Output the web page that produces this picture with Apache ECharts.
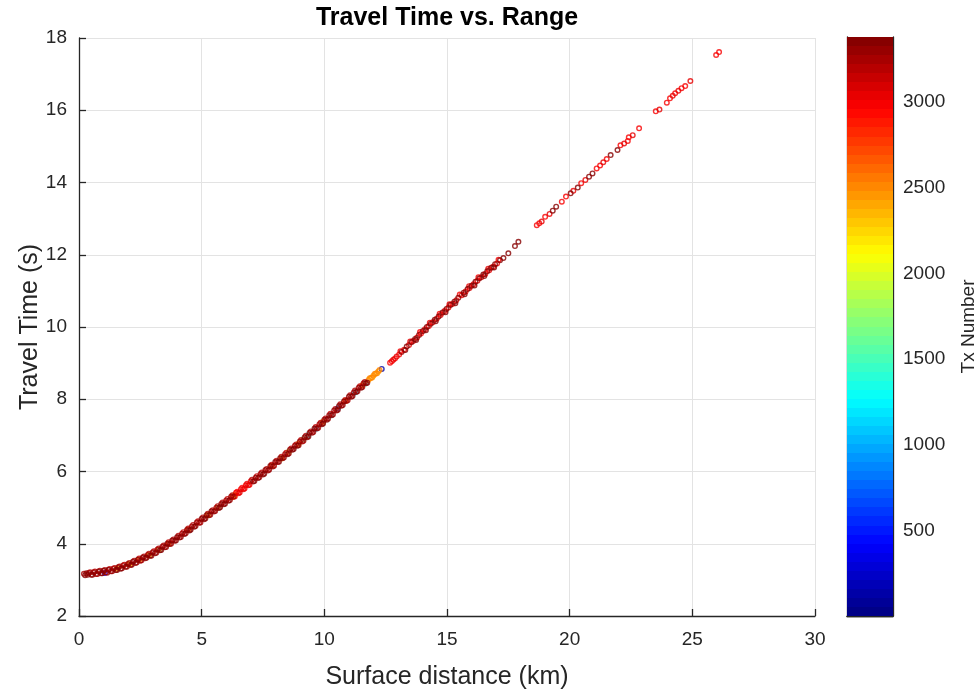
<!DOCTYPE html>
<html>
<head>
<meta charset="utf-8">
<script src="https://cdn.jsdelivr.net/npm/echarts@6/dist/echarts.min.js"></script>
<style>
  html, body { margin: 0; padding: 0; background: #fff; }
  #chart { width: 977px; height: 689px; }
</style>
</head>
<body>
<div id="chart"></div>
<script>
// picks: [surface distance km, travel time s, tx number]
// dense part of the curve, 0.2 - 12.3 km
const nearPicks = [
  [0.20, 3.17, 3260], [0.25, 3.13, 3330], [0.30, 3.18, 3290], [0.35, 3.14, 3370], [0.40, 3.19, 3240],
  [0.50, 3.14, 3350], [0.60, 3.21, 3310], [0.70, 3.16, 3260], [0.80, 3.23, 3330], [0.90, 3.18, 3290],
  [1.00, 3.25, 3370], [1.10, 3.21, 3240], [1.20, 3.28, 3350], [1.30, 3.24, 3310], [1.40, 3.31, 3260],
  [1.50, 3.27, 3330], [1.60, 3.35, 3290], [1.70, 3.31, 3370], [1.80, 3.40, 3240], [1.90, 3.36, 3350],
  [2.00, 3.44, 3310], [2.10, 3.41, 3260], [2.20, 3.50, 3330], [2.30, 3.47, 3290], [2.40, 3.56, 3370],
  [2.50, 3.53, 3240], [2.60, 3.62, 3350], [2.70, 3.60, 3310], [2.80, 3.69, 3260], [2.90, 3.67, 3330],
  [3.00, 3.76, 3290], [3.10, 3.74, 3370], [3.20, 3.84, 3240], [3.30, 3.82, 3350], [3.40, 3.92, 3310],
  [3.50, 3.90, 3260], [3.60, 4.00, 3330], [3.70, 3.99, 3290], [3.80, 4.09, 3370], [3.90, 4.08, 3240],
  [4.00, 4.18, 3350], [4.10, 4.17, 3310], [4.20, 4.28, 3260], [4.30, 4.27, 3330], [4.40, 4.38, 3290],
  [4.50, 4.37, 3370], [4.60, 4.48, 3240], [4.70, 4.47, 3350], [4.80, 4.59, 3310], [4.90, 4.58, 3260],
  [5.00, 4.69, 3330], [5.10, 4.68, 3290], [5.20, 4.79, 3370], [5.30, 4.79, 3240], [5.40, 4.90, 3350],
  [5.50, 4.89, 3310], [5.60, 5.00, 3260], [5.70, 4.99, 3330], [5.80, 5.10, 3290], [5.90, 5.09, 3370],
  [6.00, 5.20, 3240], [6.10, 5.19, 3350], [6.20, 5.30, 3310], [6.30, 5.30, 3260],
  [6.40, 5.41, 2990], [6.50, 5.40, 3020], [6.60, 5.51, 2980], [6.70, 5.51, 3040], [6.80, 5.62, 3000],
  [6.90, 5.62, 3030], [7.00, 5.73, 2990],
  [7.10, 5.72, 3330], [7.20, 5.83, 3290], [7.30, 5.82, 3370], [7.40, 5.93, 3240], [7.50, 5.92, 3350],
  [7.60, 6.04, 3310], [7.70, 6.03, 3260], [7.80, 6.15, 3330], [7.90, 6.14, 3290], [8.00, 6.26, 3370],
  [8.10, 6.26, 3240], [8.20, 6.37, 3350], [8.30, 6.37, 3310], [8.40, 6.48, 3260], [8.50, 6.48, 3330],
  [8.60, 6.60, 3290], [8.70, 6.60, 3370], [8.80, 6.71, 3240], [8.90, 6.71, 3350], [9.00, 6.83, 3310],
  [9.10, 6.83, 3260], [9.20, 6.95, 3330], [9.30, 6.95, 3290], [9.40, 7.07, 3370], [9.50, 7.07, 3240],
  [9.60, 7.19, 3350], [9.70, 7.19, 3310], [9.80, 7.31, 3260], [9.90, 7.31, 3330], [10.00, 7.43, 3290],
  [10.10, 7.43, 3370], [10.20, 7.56, 3240], [10.30, 7.56, 3350], [10.40, 7.69, 3310], [10.50, 7.69, 3260],
  [10.60, 7.81, 3330], [10.70, 7.82, 3290], [10.80, 7.94, 3370], [10.90, 7.95, 3240], [11.00, 8.07, 3350],
  [11.10, 8.07, 3310], [11.20, 8.19, 3260], [11.30, 8.20, 3330], [11.40, 8.32, 3290], [11.50, 8.32, 3370],
  [11.60, 8.44, 3240], [11.70, 8.44, 3350],
  [11.80, 8.53, 2470], [11.90, 8.59, 2500], [12.00, 8.65, 2450], [12.10, 8.71, 2520], [12.20, 8.77, 2480],
  [12.34, 8.84, 120]
];

// in-between picks on the edges of the dense band
const nearPicksB = [
  [0.45, 3.21, 3180], [0.55, 3.14, 3300], [0.65, 3.23, 3120], [0.75, 3.16, 3260], [0.85, 3.25, 3200],
  [0.95, 3.18, 3340], [1.05, 3.27, 3180], [1.15, 3.20, 3300], [1.25, 3.30, 3120], [1.35, 3.24, 3260],
  [1.45, 3.33, 3200], [1.55, 3.27, 3340], [1.65, 3.37, 3180], [1.75, 3.32, 3300], [1.85, 3.42, 3120],
  [1.95, 3.36, 3260], [2.05, 3.47, 3200], [2.15, 3.42, 3340], [2.25, 3.53, 3180], [2.35, 3.48, 3300],
  [2.45, 3.59, 3120], [2.55, 3.54, 3260], [2.65, 3.65, 3200], [2.75, 3.61, 3340], [2.85, 3.72, 3180],
  [2.95, 3.67, 3300], [3.05, 3.79, 3120], [3.15, 3.75, 3260], [3.25, 3.87, 3200], [3.35, 3.83, 3340],
  [3.45, 3.95, 3180], [3.55, 3.91, 3300], [3.65, 4.04, 3120], [3.75, 4.00, 3260], [3.85, 4.12, 3200],
  [3.95, 4.09, 3340], [4.05, 4.22, 3180], [4.15, 4.19, 3300], [4.25, 4.32, 3120], [4.35, 4.29, 3260],
  [4.45, 4.42, 3200], [4.55, 4.39, 3340], [4.65, 4.52, 3180], [4.75, 4.49, 3300], [4.85, 4.62, 3120],
  [4.95, 4.59, 3260], [5.05, 4.73, 3200], [5.15, 4.70, 3340], [5.25, 4.83, 3180], [5.35, 4.80, 3300],
  [5.45, 4.93, 3120], [5.55, 4.91, 3260], [5.65, 5.04, 3200], [5.75, 5.01, 3340], [5.85, 5.14, 3180],
  [5.95, 5.11, 3300], [6.05, 5.24, 3120], [6.15, 5.21, 3260], [6.25, 5.34, 3200],
  [6.35, 5.31, 3010], [6.45, 5.44, 2990], [6.55, 5.42, 3030], [6.65, 5.55, 3000], [6.75, 5.53, 2980],
  [6.85, 5.66, 3020], [6.95, 5.63, 3000],
  [7.05, 5.77, 3180], [7.15, 5.74, 3300], [7.25, 5.87, 3120], [7.35, 5.84, 3260], [7.45, 5.97, 3200],
  [7.55, 5.94, 3340], [7.65, 6.07, 3180], [7.75, 6.05, 3300], [7.85, 6.19, 3120], [7.95, 6.16, 3260],
  [8.05, 6.30, 3200], [8.15, 6.27, 3340], [8.25, 6.41, 3180], [8.35, 6.39, 3300], [8.45, 6.52, 3120],
  [8.55, 6.50, 3260], [8.65, 6.64, 3200], [8.75, 6.62, 3340], [8.85, 6.75, 3180], [8.95, 6.73, 3300],
  [9.05, 6.87, 3120], [9.15, 6.85, 3260], [9.25, 6.99, 3200], [9.35, 6.97, 3340], [9.45, 7.11, 3180],
  [9.55, 7.09, 3300], [9.65, 7.23, 3120], [9.75, 7.21, 3260], [9.85, 7.35, 3200], [9.95, 7.33, 3340],
  [10.05, 7.47, 3180], [10.15, 7.46, 3300], [10.25, 7.60, 3120], [10.35, 7.58, 3260], [10.45, 7.73, 3200],
  [10.55, 7.71, 3340], [10.65, 7.86, 3180], [10.75, 7.84, 3300], [10.85, 7.98, 3120], [10.95, 7.97, 3260],
  [11.05, 8.11, 3200], [11.15, 8.09, 3340], [11.25, 8.24, 3180], [11.35, 8.22, 3300], [11.45, 8.36, 3120],
  [11.55, 8.34, 3260], [11.65, 8.48, 3200], [11.75, 8.46, 3340],
  [11.85, 8.58, 2490], [11.95, 8.60, 2460], [12.05, 8.70, 2510], [12.15, 8.72, 2470], [12.25, 8.81, 2500]
];

// odd colours showing through the dense band
const accentPicks = [
  [1.05, 3.19, 400], [1.55, 3.31, 2350], [2.05, 3.43, 2200], [2.45, 3.55, 2450], [2.85, 3.68, 2300],
  [3.25, 3.83, 1950], [3.65, 4.00, 2500], [4.45, 4.39, 2600], [5.25, 4.79, 2150], [5.65, 5.00, 1900],
  [6.25, 5.29, 2550], [6.35, 5.35, 2200], [7.85, 6.15, 2600], [8.25, 6.36, 2300], [8.55, 6.55, 1800],
  [8.95, 6.77, 2400], [9.15, 6.89, 1550], [9.35, 7.01, 1300], [9.65, 7.18, 1100], [9.95, 7.38, 2450],
  [10.25, 7.56, 1250], [10.55, 7.75, 850], [10.85, 7.95, 2500], [11.25, 8.19, 1200], [11.55, 8.39, 2500],
  [11.65, 8.43, 1400]
];

// 12.7 - 17.9 km
const midPicks = [
  [12.68, 9.01, 3010], [12.75, 9.05, 2990], [12.81, 9.09, 3020], [12.88, 9.13, 3000], [12.95, 9.18, 3030],
  [13.05, 9.24, 3010], [13.15, 9.31, 3320], [13.25, 9.37, 3000], [13.36, 9.46, 3340], [13.45, 9.50, 3050],
  [13.55, 9.58, 3350], [13.62, 9.61, 3020], [13.70, 9.67, 3330], [13.78, 9.71, 3060], [13.86, 9.78, 3360],
  [13.94, 9.82, 3010], [14.02, 9.89, 3340], [14.10, 9.94, 3040], [14.18, 10.00, 3350], [14.26, 10.03, 3000],
  [14.34, 10.09, 3370], [14.42, 10.13, 3030], [14.50, 10.20, 3340], [14.58, 10.23, 3020], [14.66, 10.29, 3350],
  [14.74, 10.33, 3050], [14.82, 10.40, 3330], [14.90, 10.44, 3010], [14.98, 10.50, 3360], [15.06, 10.54, 3020],
  [15.14, 10.61, 3340], [15.22, 10.64, 3000], [15.30, 10.70, 3350], [15.38, 10.74, 3040], [15.46, 10.81, 3330],
  [15.60, 10.88, 3020], [15.68, 10.95, 3360], [15.76, 10.98, 3010], [15.84, 11.05, 3340], [15.92, 11.08, 3030],
  [16.00, 11.14, 3350], [16.08, 11.18, 3000], [16.16, 11.25, 3370], [16.24, 11.28, 3050], [16.32, 11.35, 3340],
  [16.40, 11.38, 3020], [16.48, 11.45, 3350], [16.56, 11.47, 3010], [16.64, 11.54, 3330], [16.72, 11.57, 3040],
  [16.80, 11.64, 3360], [16.88, 11.67, 3020], [16.96, 11.74, 3340], [17.04, 11.76, 3030], [17.16, 11.85, 3350],
  [17.30, 11.91, 3340], [17.50, 12.04, 3360], [17.77, 12.24, 3350], [17.91, 12.36, 3370]
];

// picks lying a little off the mid band
const midPicksB = [
  [13.10, 9.33, 3000], [13.30, 9.36, 3330], [13.50, 9.60, 3020], [13.74, 9.64, 3350], [13.90, 9.86, 3010],
  [14.14, 9.91, 3340], [14.30, 10.12, 3030], [14.54, 10.16, 3360], [14.70, 10.37, 3000], [14.94, 10.41, 3340],
  [15.10, 10.63, 3020], [15.34, 10.66, 3350], [15.52, 10.90, 3010], [15.72, 10.91, 3330], [15.90, 11.13, 3040],
  [16.12, 11.15, 3350], [16.28, 11.38, 3000], [16.52, 11.41, 3340], [16.68, 11.61, 3020], [16.92, 11.65, 3360],
  [17.10, 11.86, 3010]
];

// sparse far picks, 18.6 - 26.1 km
const farPicks = [
  [18.66, 12.82, 3010], [18.76, 12.87, 2990], [18.86, 12.92, 3020], [19.00, 13.05, 3000], [19.18, 13.13, 3030],
  [19.31, 13.22, 3340], [19.45, 13.33, 3350], [19.68, 13.47, 3010], [19.85, 13.61, 3000], [20.04, 13.70, 3350],
  [20.15, 13.77, 3020], [20.33, 13.86, 3340], [20.47, 13.98, 3000], [20.64, 14.07, 3030], [20.79, 14.16, 3350],
  [20.93, 14.25, 3340], [21.10, 14.39, 3010], [21.24, 14.47, 3000], [21.37, 14.56, 3020], [21.51, 14.65, 3010],
  [21.67, 14.76, 3350], [21.95, 14.90, 3340], [22.07, 15.03, 3000], [22.22, 15.08, 3020], [22.37, 15.15, 3010],
  [22.41, 15.25, 3000], [22.57, 15.31, 3030], [22.83, 15.50, 3010], [23.51, 15.97, 3000], [23.66, 16.02, 3020],
  [23.96, 16.21, 3010], [24.09, 16.33, 3000], [24.20, 16.40, 3030], [24.30, 16.47, 3010], [24.43, 16.54, 3020],
  [24.56, 16.61, 3000], [24.71, 16.67, 3010], [24.92, 16.81, 3020], [25.97, 17.53, 3000], [26.09, 17.61, 3010]
];

const colorbarTicks = [500, 1000, 1500, 2000, 2500, 3000];
const TX_MIN = 1;
const TX_MAX = 3380;
const N_COLORS = 64;

// jet colormap, 64 steps
function jetBand(i) {
  const t = (i + 0.5) / N_COLORS;
  const f = v => Math.round(255 * Math.min(1, Math.max(0, v)));
  return 'rgb(' + f(1.5 - Math.abs(4 * t - 3)) + ',' + f(1.5 - Math.abs(4 * t - 2)) + ',' + f(1.5 - Math.abs(4 * t - 1)) + ')';
}
function txColor(tx) {
  const i = Math.floor((tx - TX_MIN) / (TX_MAX - TX_MIN) * N_COLORS);
  return jetBand(Math.min(N_COLORS - 1, Math.max(0, i)));
}

// stepped gradient for the colorbar (bottom -> top)
const cbStops = [];
for (let i = 0; i < N_COLORS; i++) {
  cbStops.push({ offset: i / N_COLORS, color: jetBand(i) });
  cbStops.push({ offset: (i + 1) / N_COLORS, color: jetBand(i) });
}

// later transmissions are drawn on top
const picks = [...accentPicks, ...nearPicks, ...nearPicksB, ...midPicks, ...midPicksB, ...farPicks]
  .sort((a, b) => a[2] - b[2]);

const ink = '#262626';
const font = 'Liberation Sans, Arial, Helvetica, sans-serif';

const chart = echarts.init(document.getElementById('chart'));
chart.setOption({
  animation: false,
  backgroundColor: '#fff',
  textStyle: { fontFamily: font },
  title: {
    text: 'Travel Time vs. Range',
    left: 447, top: 6, padding: 0, textAlign: 'center',
    textStyle: { fontFamily: font, fontSize: 25, fontWeight: 'bold', color: '#000' }
  },
  grid: [
    { left: 79, top: 38, width: 736, height: 578, outerBoundsMode: 'none' },
    { left: 847, top: 37, width: 46, height: 579, outerBoundsMode: 'none' }
  ],
  xAxis: [
    {
      type: 'value', gridIndex: 0, min: 0, max: 30, interval: 5,
      name: 'Surface distance (km)', nameLocation: 'middle', nameGap: 49, nameMoveOverlap: false,
      nameTextStyle: { fontFamily: font, fontSize: 25, color: ink },
      axisLine: { show: true, onZero: false, lineStyle: { color: ink, width: 1.3 } },
      axisTick: { inside: true, length: 7, lineStyle: { color: ink, width: 1.3 } },
      axisLabel: { fontFamily: font, fontSize: 19, color: ink, margin: 14 },
      splitLine: { show: true, lineStyle: { color: '#e3e3e3', width: 1 } }
    },
    {
      type: 'category', gridIndex: 1, data: ['cb'], position: 'bottom',
      axisLine: { show: true, lineStyle: { color: ink, width: 1.3 } },
      axisTick: { show: false }, axisLabel: { show: false }, splitLine: { show: false }
    },
    {
      type: 'category', gridIndex: 1, data: ['cb'], position: 'top',
      axisLine: { show: true, lineStyle: { color: ink, width: 1.3 } },
      axisTick: { show: false }, axisLabel: { show: false }, splitLine: { show: false }
    }
  ],
  yAxis: [
    {
      type: 'value', gridIndex: 0, min: 2, max: 18, interval: 2,
      name: 'Travel Time (s)', nameLocation: 'middle', nameGap: 36, nameMoveOverlap: false,
      nameTextStyle: { fontFamily: font, fontSize: 25, color: ink },
      axisLine: { show: true, onZero: false, lineStyle: { color: ink, width: 1.3 } },
      axisTick: { inside: true, length: 7, lineStyle: { color: ink, width: 1.3 } },
      axisLabel: { fontFamily: font, fontSize: 19, color: ink, margin: 12 },
      splitLine: { show: true, lineStyle: { color: '#e3e3e3', width: 1 } }
    },
    {
      type: 'value', gridIndex: 1, position: 'right', min: 0, max: TX_MAX, interval: 500,
      name: 'Tx Number', nameLocation: 'middle', nameGap: 66, nameMoveOverlap: false,
      nameTextStyle: { fontFamily: font, fontSize: 19, color: ink },
      axisLine: { show: true, lineStyle: { color: ink, width: 1.3 } },
      axisTick: { inside: true, length: 6, customValues: colorbarTicks, lineStyle: { color: ink, width: 1.3 } },
      axisLabel: {
        fontFamily: font, fontSize: 19, color: ink, margin: 10, customValues: colorbarTicks,
        formatter: v => String(v)
      },
      splitLine: { show: false }
    },
    {
      type: 'value', gridIndex: 1, position: 'left', min: 0, max: TX_MAX,
      axisLine: { show: true, lineStyle: { color: ink, width: 1.3 } },
      axisTick: { show: false }, axisLabel: { show: false }, splitLine: { show: false }
    }
  ],
  series: [
    {
      type: 'scatter', xAxisIndex: 0, yAxisIndex: 0,
      symbol: 'circle', symbolSize: 4.6,
      itemStyle: { color: 'rgba(0,0,0,0)', borderWidth: 1.4 },
      data: picks.map(p => ({ value: p, itemStyle: { borderColor: txColor(p[2]) } }))
    },
    {
      type: 'bar', xAxisIndex: 1, yAxisIndex: 1, barWidth: '100%', silent: true, z: 1,
      data: [TX_MAX],
      itemStyle: {
        color: { type: 'linear', x: 0, y: 1, x2: 0, y2: 0, colorStops: cbStops }
      }
    }
  ]
});
</script>
</body>
</html>
